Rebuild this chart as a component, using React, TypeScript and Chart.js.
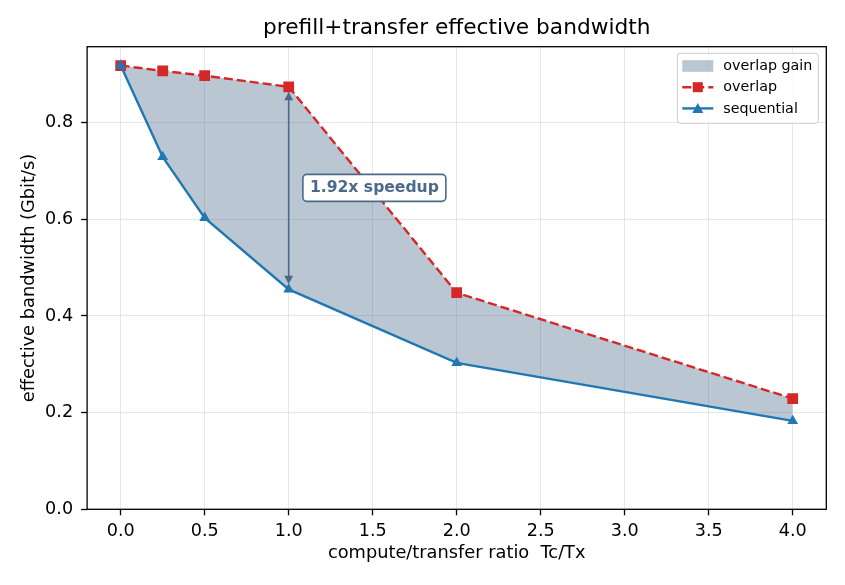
import { Chart, registerables } from "chart.js";
import { useEffect, useRef } from "react";

Chart.register(...registerables);

// values
const ratios = [0, 0.25, 0.5, 1, 2, 4];
const overlapBw = [0.918, 0.907, 0.897, 0.874, 0.448, 0.229];
const sequentialBw = [0.918, 0.729, 0.603, 0.455, 0.303, 0.183];
const xTicks = [0, 0.5, 1, 1.5, 2, 2.5, 3, 3.5, 4];
const yTicks = [0, 0.2, 0.4, 0.6, 0.8];
const legendLabels = ["overlap gain", "overlap", "sequential"];
const chartTitle = "prefill+transfer effective bandwidth";
const speedupIndex = 3; // ratio 1.0
const speedupText = "1.92x speedup";
const speedupLabelAt = { x: 1.51, y: 0.665 };

const RED = "#d62728";
const BLUE = "#1f77b4";
const SLATE = "#4a6a8a";
const GAIN = "rgba(74,106,138,0.38)";
const FONT = "'DejaVu Sans', sans-serif";

const roundRect = (ctx: CanvasRenderingContext2D, x: number, y: number, w: number, h: number, r: number) => {
  ctx.beginPath();
  ctx.moveTo(x + r, y);
  ctx.lineTo(x + w - r, y);
  ctx.arcTo(x + w, y, x + w, y + r, r);
  ctx.lineTo(x + w, y + h - r);
  ctx.arcTo(x + w, y + h, x + w - r, y + h, r);
  ctx.lineTo(x + r, y + h);
  ctx.arcTo(x, y + h, x, y + h - r, r);
  ctx.lineTo(x, y + r);
  ctx.arcTo(x, y, x + r, y, r);
  ctx.closePath();
};

// title, frame, speedup arrow + label, and the in-plot legend
const overlayPlugin = {
  id: "overlay",
  afterDatasetsDraw(chart: Chart) {
    const { ctx, chartArea } = chart;
    const xs = chart.scales.x;
    const ys = chart.scales.y;
    ctx.save();

    // title centred over the plot area
    ctx.fillStyle = "#000";
    ctx.font = `21.7px ${FONT}`;
    ctx.textAlign = "center";
    ctx.textBaseline = "middle";
    ctx.fillText(chartTitle, (chartArea.left + chartArea.right) / 2, 28.5);

    // axes frame
    ctx.strokeStyle = "#000";
    ctx.lineWidth = 1.3;
    ctx.strokeRect(chartArea.left, chartArea.top, chartArea.right - chartArea.left, chartArea.bottom - chartArea.top);

    // double headed arrow
    const ax = xs.getPixelForValue(ratios[speedupIndex]);
    const y1 = ys.getPixelForValue(overlapBw[speedupIndex]) + 5;
    const y2 = ys.getPixelForValue(sequentialBw[speedupIndex]) - 5;
    ctx.strokeStyle = SLATE;
    ctx.fillStyle = SLATE;
    ctx.lineWidth = 1.6;
    ctx.beginPath();
    ctx.moveTo(ax, y1 + 6);
    ctx.lineTo(ax, y2 - 6);
    ctx.stroke();
    ctx.beginPath();
    ctx.moveTo(ax, y1);
    ctx.lineTo(ax - 4.4, y1 + 8.5);
    ctx.lineTo(ax + 4.4, y1 + 8.5);
    ctx.closePath();
    ctx.fill();
    ctx.beginPath();
    ctx.moveTo(ax, y2);
    ctx.lineTo(ax - 4.4, y2 - 8.5);
    ctx.lineTo(ax + 4.4, y2 - 8.5);
    ctx.closePath();
    ctx.fill();

    // label box
    const lx = xs.getPixelForValue(speedupLabelAt.x);
    const ly = ys.getPixelForValue(speedupLabelAt.y);
    ctx.font = `bold 15.6px ${FONT}`;
    const tw = ctx.measureText(speedupText).width;
    const bw = tw + 14;
    const bh = 27;
    roundRect(ctx, lx - bw / 2, ly - bh / 2, bw, bh, 4);
    ctx.fillStyle = "#fff";
    ctx.fill();
    ctx.lineWidth = 1.6;
    ctx.strokeStyle = SLATE;
    ctx.stroke();
    ctx.fillStyle = SLATE;
    ctx.textAlign = "center";
    ctx.textBaseline = "middle";
    ctx.fillText(speedupText, lx, ly + 0.5);

    // legend
    const lw = 141;
    const lh = 70;
    const left = chartArea.right - 8 - lw;
    const top = chartArea.top + 6.6;
    roundRect(ctx, left, top, lw, lh, 3);
    ctx.fillStyle = "rgba(255,255,255,0.8)";
    ctx.fill();
    ctx.strokeStyle = "#cccccc";
    ctx.lineWidth = 1;
    ctx.stroke();

    ctx.font = `14.3px ${FONT}`;
    ctx.textAlign = "left";
    legendLabels.forEach((label, i) => {
      const cy = top + 12.7 + i * 21.2;
      const hx0 = left + 5;
      const hx1 = left + 36;
      const mx = (hx0 + hx1) / 2;
      if (i === 0) {
        ctx.fillStyle = GAIN;
        ctx.fillRect(hx0, cy - 5.8, hx1 - hx0, 11.6);
      } else {
        const color = i === 1 ? RED : BLUE;
        ctx.strokeStyle = color;
        ctx.fillStyle = color;
        ctx.lineWidth = 2.4;
        ctx.setLineDash(i === 1 ? [9, 4] : []);
        ctx.beginPath();
        ctx.moveTo(hx0, cy);
        ctx.lineTo(hx1, cy);
        ctx.stroke();
        ctx.setLineDash([]);
        if (i === 1) {
          ctx.fillRect(mx - 5, cy - 5, 10, 10);
        } else {
          ctx.beginPath();
          ctx.moveTo(mx, cy - 5.5);
          ctx.lineTo(mx - 5.5, cy + 4.5);
          ctx.lineTo(mx + 5.5, cy + 4.5);
          ctx.closePath();
          ctx.fill();
        }
      }
      ctx.fillStyle = "#000";
      ctx.fillText(label, left + 46, cy + 0.5);
    });

    ctx.restore();
  },
};

const App = () => {
  const canvasRef = useRef<HTMLCanvasElement | null>(null);

  useEffect(() => {
    document.body.style.margin = "0";
    if (!canvasRef.current) return;

    const chart = new Chart(canvasRef.current, {
      type: "line",
      data: {
        datasets: [
          {
            label: "sequential",
            data: ratios.map((x, i) => ({ x, y: sequentialBw[i] })),
            borderColor: BLUE,
            backgroundColor: BLUE,
            borderWidth: 2.4,
            pointStyle: "triangle",
            pointRadius: 6.2,
            pointBorderWidth: 0,
            fill: false,
          },
          {
            label: "overlap",
            data: ratios.map((x, i) => ({ x, y: overlapBw[i] })),
            borderColor: RED,
            backgroundColor: GAIN,
            pointBackgroundColor: RED,
            borderWidth: 2.4,
            borderDash: [9, 4],
            pointStyle: "rect",
            pointRadius: 7.6,
            pointBorderWidth: 0,
            fill: { target: "-1", above: GAIN, below: GAIN },
          },
        ],
      },
      options: {
        responsive: false,
        animation: false,
        devicePixelRatio: 1,
        layout: { padding: { left: 0, right: 18.7, top: 46.7, bottom: 0 } },
        plugins: {
          legend: { display: false },
          tooltip: { enabled: false },
          title: { display: false },
          filler: { drawTime: "beforeDatasetsDraw" },
        },
        scales: {
          x: {
            type: "linear",
            min: -0.2,
            max: 4.2,
            afterBuildTicks: (scale: any) => {
              scale.ticks = xTicks.map((value) => ({ value }));
            },
            afterFit: (scale: any) => {
              scale.height = 75.7;
            },
            ticks: {
              callback: (v: any) => Number(v).toFixed(1),
              color: "#000",
              font: { family: FONT, size: 17.6 },
              padding: 6,
              maxRotation: 0,
              autoSkip: false,
            },
            grid: {
              color: "rgba(176,176,176,0.3)",
              tickColor: "#000",
              tickLength: 6,
              tickWidth: 1.3,
            },
            border: { display: false },
            title: {
              display: true,
              text: "compute/transfer ratio  Tc/Tx",
              color: "#000",
              font: { family: FONT, size: 17.8 },
              padding: { top: 0, bottom: 20.5 },
            },
          },
          y: {
            type: "linear",
            min: 0,
            max: 0.957,
            afterBuildTicks: (scale: any) => {
              scale.ticks = yTicks.map((value) => ({ value }));
            },
            afterFit: (scale: any) => {
              scale.width = 87.1;
            },
            ticks: {
              callback: (v: any) => Number(v).toFixed(1),
              color: "#000",
              font: { family: FONT, size: 17.6 },
              padding: 8,
            },
            grid: {
              color: "rgba(176,176,176,0.3)",
              tickColor: "#000",
              tickLength: 6,
              tickWidth: 1.3,
            },
            border: { display: false },
            title: {
              display: true,
              text: "effective bandwidth (Gbit/s)",
              color: "#000",
              font: { family: FONT, size: 17.8 },
              padding: { top: 19, bottom: 0 },
            },
          },
        },
      },
      plugins: [overlayPlugin],
    });

    return () => chart.destroy();
  }, []);

  return (
    <div style={{ position: "absolute", left: 0, top: 0, width: 845, height: 585, background: "#fff" }}>
      <canvas ref={canvasRef} width={845} height={585} style={{ width: 845, height: 585 }} />
    </div>
  );
};

export default App;
